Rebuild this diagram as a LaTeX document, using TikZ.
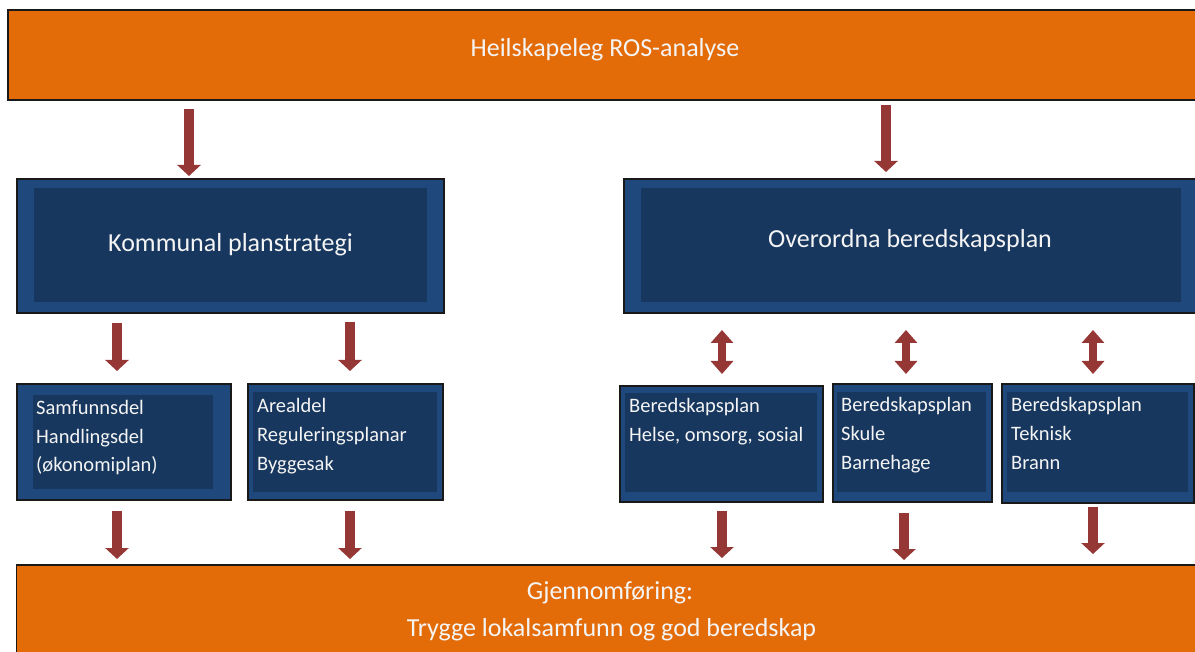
\documentclass[tikz,border=0pt]{standalone}
\usepackage{fontspec}
\setmainfont{Carlito}
\usetikzlibrary{arrows.meta}
\definecolor{orng}{HTML}{E36C09}
\definecolor{bluO}{HTML}{1F497D}
\definecolor{bluI}{HTML}{17375E}
\definecolor{arr}{HTML}{953735}
\definecolor{txt}{HTML}{F4F4F4}
\begin{document}
\begin{tikzpicture}[x=1pt,y=-1pt,
  box/.style={anchor=north west, inner sep=0pt, outer sep=0pt},
  orangebox/.style={box, fill=orng, draw=black!90, line width=1.2pt},
  outerblue/.style={box, fill=bluO, draw=black!90, line width=1.2pt},
  innerblue/.style={box, fill=bluI},
  bigtext/.style={text=txt, font=\fontsize{26}{31}\selectfont, anchor=base, inner sep=0pt},
  smalltext/.style={text=txt, font=\fontsize{20.5}{24}\selectfont, anchor=base west, inner sep=0pt},
  downarrow/.style={draw=arr, line width=10pt, -{Triangle[width=23pt,length=11pt]}},
  bothways/.style={draw=arr, line width=8pt, {Triangle[width=22pt,length=13pt]}-{Triangle[width=22pt,length=13pt]}},
]
\useasboundingbox (0,0) rectangle (1195,652);
\clip (0,0) rectangle (1195,652);

% top box
\node[orangebox, minimum width=1200pt, minimum height=90pt] (ros) at (8,10) {};
\node[bigtext] (rost) at (605,57) {Heilskapeleg ROS-analyse};

% second row
\node[outerblue, minimum width=427pt, minimum height=134pt] (kps) at (17,179) {};
\node[innerblue, minimum width=393pt, minimum height=114pt] (kpsi) at (34,188) {};
\node[bigtext] (kpst) at (230.5,252) {Kommunal planstrategi};

\node[outerblue, minimum width=600pt, minimum height=134pt] (obp) at (624,179) {};
\node[innerblue, minimum width=540pt, minimum height=114pt] (obpi) at (641,188) {};
\node[bigtext] (obpt) at (910,248) {Overordna beredskapsplan};

% small boxes
\node[outerblue, minimum width=214pt, minimum height=116pt] (s1) at (17,384) {};
\node[innerblue, minimum width=180pt, minimum height=94pt] (s1i) at (33,395) {};
\node[smalltext] (s1a) at (36,414) {Samfunnsdel};
\node[smalltext] (s1b) at (36,443) {Handlingsdel};
\node[smalltext] (s1c) at (36,471.5) {(økonomiplan)};

\node[outerblue, minimum width=195pt, minimum height=116pt] (s2) at (248,384) {};
\node[innerblue, minimum width=184pt, minimum height=100pt] (s2i) at (253,392) {};
\node[smalltext] (s2a) at (257,413) {Arealdel};
\node[smalltext] (s2b) at (257,441.5) {Reguleringsplanar};
\node[smalltext] (s2c) at (257,470) {Byggesak};

\node[outerblue, minimum width=203pt, minimum height=116pt] (s3) at (620,386) {};
\node[innerblue, minimum width=192pt, minimum height=99pt] (s3i) at (625,393) {};
\node[smalltext] (s3a) at (629,413) {Beredskapsplan};
\node[smalltext] (s3b) at (629,442) {Helse, omsorg, sosial};

\node[outerblue, minimum width=159pt, minimum height=118pt] (s4) at (833,384) {};
\node[innerblue, minimum width=149pt, minimum height=100pt] (s4i) at (837,392) {};
\node[smalltext] (s4a) at (841,412) {Beredskapsplan};
\node[smalltext] (s4b) at (841,441) {Skule};
\node[smalltext] (s4c) at (841,469.5) {Barnehage};

\node[outerblue, minimum width=192pt, minimum height=119pt] (s5) at (1002,384) {};
\node[innerblue, minimum width=181pt, minimum height=100pt] (s5i) at (1007,392) {};
\node[smalltext] (s5a) at (1011,412) {Beredskapsplan};
\node[smalltext] (s5b) at (1011,441) {Teknisk};
\node[smalltext] (s5c) at (1011,469.5) {Brann};

% bottom box
\node[orangebox, minimum width=1200pt, minimum height=100pt] (gj) at (16.5,565) {};
\node[bigtext] (gja) at (610,599) {Gjennomføring:};
\node[bigtext] (gjb) at (611.5,636) {Trygge lokalsamfunn og god beredskap};

% arrow end points
\coordinate (a1s) at (189,109);  \coordinate (a1e) at (189,176);
\coordinate (a2s) at (886,105);  \coordinate (a2e) at (886,172);
\coordinate (b1s) at (117,323);  \coordinate (b1e) at (117,371);
\coordinate (b2s) at (350,322);  \coordinate (b2e) at (350,371);
\coordinate (d1s) at (722,330);  \coordinate (d1e) at (722,374);
\coordinate (d2s) at (906,330);  \coordinate (d2e) at (906,374);
\coordinate (d3s) at (1093,330); \coordinate (d3e) at (1093,374);
\coordinate (c1s) at (117,511);  \coordinate (c1e) at (117,559);
\coordinate (c2s) at (350,511);  \coordinate (c2e) at (350,559);
\coordinate (c3s) at (722,511);  \coordinate (c3e) at (722,558);
\coordinate (c4s) at (904,513);  \coordinate (c4e) at (904,560);
\coordinate (c5s) at (1093,507); \coordinate (c5e) at (1093,554);

\draw[downarrow] (a1s) -- (a1e);
\draw[downarrow] (a2s) -- (a2e);
\draw[downarrow] (b1s) -- (b1e);
\draw[downarrow] (b2s) -- (b2e);
\draw[bothways] (d1s) -- (d1e);
\draw[bothways] (d2s) -- (d2e);
\draw[bothways] (d3s) -- (d3e);
\draw[downarrow] (c1s) -- (c1e);
\draw[downarrow] (c2s) -- (c2e);
\draw[downarrow] (c3s) -- (c3e);
\draw[downarrow] (c4s) -- (c4e);
\draw[downarrow] (c5s) -- (c5e);
\end{tikzpicture}
\end{document}
